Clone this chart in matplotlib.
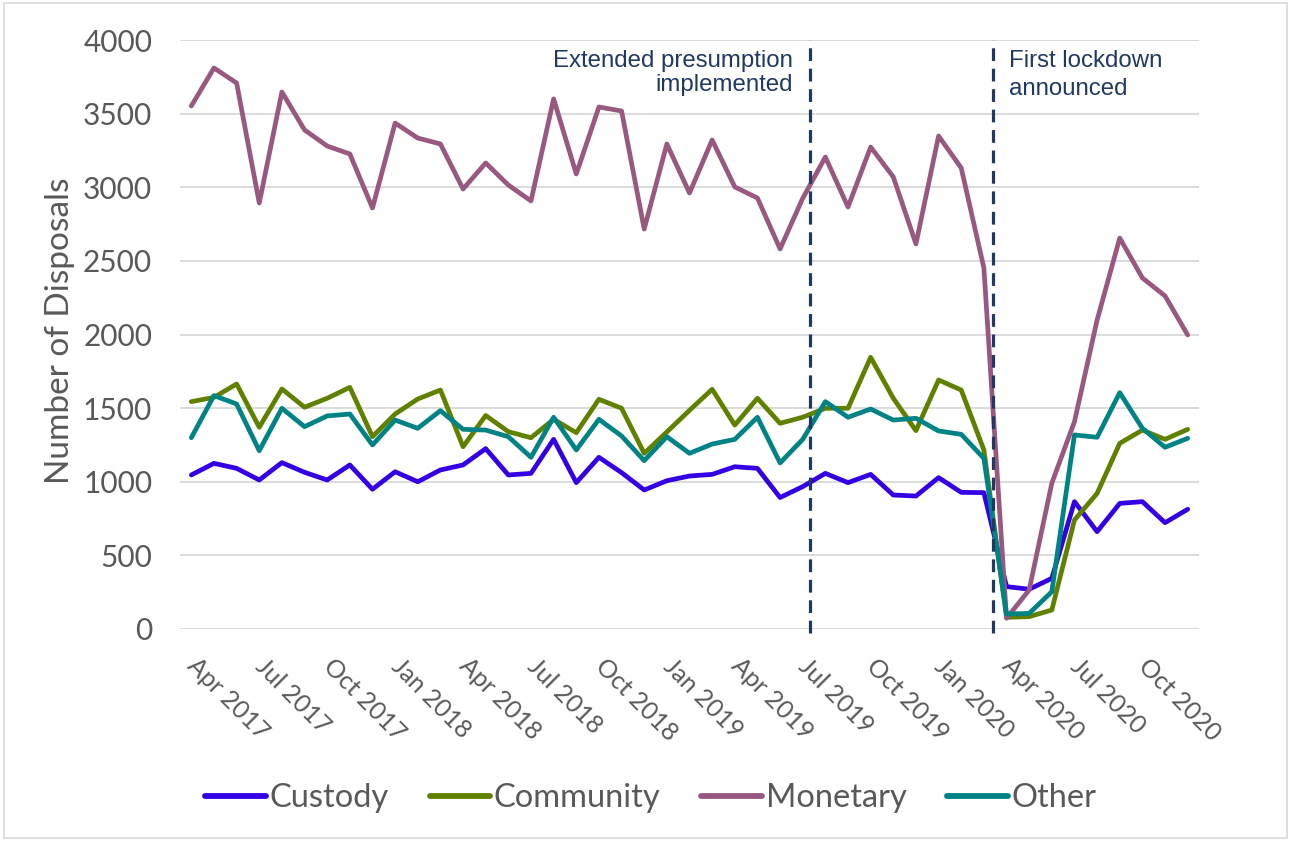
import matplotlib
matplotlib.use("Agg")
import matplotlib.pyplot as plt
from matplotlib.patches import Rectangle
import numpy as np
import pandas as pd

# monthly disposals, Apr 2017 - Dec 2020
months = pd.date_range("2017-04-01", periods=45, freq="MS")

custody = [1046, 1125, 1091, 1012, 1130, 1064, 1012, 1114, 949, 1068, 1000, 1080,
           1114, 1225, 1046, 1057, 1288, 994, 1166, 1062, 944, 1007, 1039, 1050,
           1102, 1091, 893, 967, 1057, 994, 1050, 910, 903, 1028, 928, 926,
           288, 270, 344, 865, 661, 853, 865, 722, 813]
community = [1544, 1573, 1664, 1370, 1630, 1506, 1567, 1641, 1306, 1460, 1562, 1623,
             1238, 1450, 1340, 1299, 1424, 1333, 1560, 1499, 1193, 1338, 1485, 1628,
             1385, 1567, 1397, 1438, 1499, 1499, 1845, 1567, 1347, 1691, 1623, 1216,
             79, 84, 129, 740, 921, 1261, 1351, 1288, 1356]
monetary = [3552, 3810, 3708, 2893, 3647, 3389, 3280, 3226, 2859, 3436, 3334, 3294,
            2988, 3165, 3015, 2907, 3600, 3090, 3545, 3518, 2716, 3294, 2961, 3321,
            3002, 2927, 2581, 2925, 3205, 2866, 3273, 3070, 2615, 3348, 3131, 2452,
            73, 265, 990, 1408, 2098, 2655, 2384, 2262, 1997]
other = [1299, 1585, 1528, 1211, 1499, 1374, 1447, 1460, 1250, 1419, 1363, 1483,
         1356, 1351, 1306, 1166, 1438, 1216, 1424, 1311, 1143, 1306, 1193, 1256,
         1288, 1438, 1128, 1288, 1544, 1438, 1494, 1419, 1431, 1345, 1322, 1159,
         102, 106, 253, 1318, 1302, 1605, 1363, 1234, 1295]

series_names = ["Custody", "Community", "Monetary", "Other"]
series_colors = ["#3300E6", "#608000", "#985880", "#008385"]

tick_labels = ["Apr 2017", "Jul 2017", "Oct 2017", "Jan 2018", "Apr 2018",
               "Jul 2018", "Oct 2018", "Jan 2019", "Apr 2019", "Jul 2019",
               "Oct 2019", "Jan 2020", "Apr 2020", "Jul 2020", "Oct 2020"]
y_ticks = [0, 500, 1000, 1500, 2000, 2500, 3000, 3500, 4000]

# events, position in months since Apr 2017
event_labels = ["Extended presumption\nimplemented", "First lockdown\nannounced"]
event_month_index = [27.3, 35.4]

grey = "#595959"
navy = "#1F3864"
font = ["Lato", "DejaVu Sans"]

fig = plt.figure(figsize=(12.91, 8.41), dpi=100)
ax = fig.add_axes([180 / 1291, 1 - 629 / 841, 1019 / 1291, 589 / 841])

x = np.arange(len(months))
data = [custody, community, monetary, other]
for vals, name, col in zip(data, series_names, series_colors):
    ax.plot(x, vals, color=col, lw=3.4, label=name, solid_joinstyle="round",
            solid_capstyle="round", zorder=3)

ax.set_xlim(-0.5, len(months) - 0.5)
ax.set_ylim(0, 4000)
ax.set_yticks(y_ticks)
ax.grid(axis="y", color="#D9D9D9", lw=1.3, zorder=0)
ax.set_axisbelow(True)
for s in ax.spines.values():
    s.set_visible(False)

month_names = list(months.strftime("%b %Y"))
ax.set_xticks([month_names.index(t) for t in tick_labels])
ax.set_xticklabels(tick_labels, rotation=-45, ha="left", va="center",
                   rotation_mode="anchor", fontsize=18, color=grey, family=font)
ax.tick_params(axis="x", length=0, pad=24)
ax.tick_params(axis="y", length=0, pad=20, labelsize=21.5, labelcolor=grey)
for lab in ax.get_yticklabels():
    lab.set_family(font)

fig.text(60 / 1291, 1 - 331 / 841, "Number of Disposals", rotation=90,
         ha="center", va="center", fontsize=24, color=grey, family=font)

# event markers
for xe in event_month_index:
    ax.axvline(xe, ymin=-0.006, ymax=1.0, color=navy, lw=2.3, dashes=(4, 2.4),
               clip_on=False, zorder=4)
ax.text(event_month_index[0] - 0.75, 3935, event_labels[0], ha="right", va="top",
        fontsize=17.3, color=navy, family="Liberation Sans", linespacing=1.12)
ax.text(event_month_index[1] + 0.7, 3935, event_labels[1], ha="left", va="top",
        fontsize=17.3, color=navy, family="Liberation Sans", linespacing=1.38)

leg = fig.legend(loc="center", bbox_to_anchor=(651 / 1291, 1 - 798 / 841), ncol=4,
                 frameon=False, handlelength=1.85, handletextpad=0.12,
                 columnspacing=1.25, prop={"family": font, "size": 23.5})
for t in leg.get_texts():
    t.set_color(grey)
for h in leg.get_lines():
    h.set_linewidth(4.2)

fig.patches.append(Rectangle((0.003, 0.003), 0.994, 0.994, transform=fig.transFigure,
                             fill=False, edgecolor="#D9D9D9", lw=1.2))

fig.savefig("out.png", dpi=100)
